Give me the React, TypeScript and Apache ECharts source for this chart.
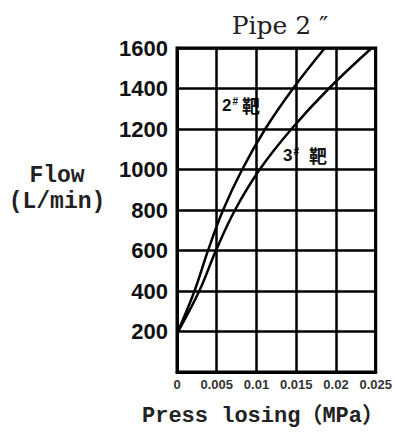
import React, { useEffect, useRef } from "react";
import * as echarts from "echarts";

const xTicks = [0, 0.005, 0.01, 0.015, 0.02, 0.025];
const yTicks = [200, 400, 600, 800, 1000, 1200, 1400, 1600];

const pipe2Press = [0, 0.0022, 0.0039, 0.0058, 0.0082, 0.0111, 0.0146, 0.0186];
const pipe2Flow = [190, 400, 600, 800, 1000, 1200, 1400, 1600];

const pipe3Press = [0, 0.0028, 0.0049, 0.0073, 0.0104, 0.0144, 0.0191, 0.0245];
const pipe3Flow = [190, 400, 600, 800, 1000, 1200, 1400, 1600];

const titleText = "Pipe 2 \u2033";
const yName = ["Flow", "(L/min)"];
const xName = "Press losing\uFF08MPa\uFF09";

export default function App() {
  const ref = useRef<HTMLDivElement>(null);
  useEffect(() => {
    if (!ref.current) return;
    const chart = echarts.init(ref.current, undefined, { renderer: "svg" });
    const zip = (xs: number[], ys: number[]) => xs.map((x, i) => [x, ys[i]]);
    const mono = "'Liberation Mono', 'Noto Sans CJK SC', monospace";
    const labelRich = (gap: number) => ({
      n: { fontSize: 17, fontWeight: "bold", fill: "#111", fontFamily: "'Liberation Sans', sans-serif" },
      s: { fontSize: 10, fontWeight: "bold", fill: "#111", verticalAlign: "top", padding: [0, gap, 8, 1] },
      z: { fontSize: 18, fontWeight: "bold", fill: "#111", fontFamily: "'Noto Sans CJK SC', sans-serif" },
    });
    chart.setOption({
      animation: false,
      backgroundColor: "#fff",
      grid: {
        left: 177,
        right: 18,
        top: 48,
        bottom: 61,
        show: true,
        borderColor: "#000",
        borderWidth: 3,
      },
      xAxis: {
        type: "value",
        min: 0,
        max: 0.025,
        interval: 0.005,
        axisLine: { show: true, lineStyle: { color: "#000", width: 3 } },
        axisTick: { show: false },
        splitLine: { show: true, lineStyle: { color: "#000", width: 2.5 } },
        axisLabel: {
          margin: 6,
          color: "#333",
          fontSize: 13,
          fontWeight: "bold",
          fontFamily: "'Liberation Sans', Arial, sans-serif",
          formatter: (v: number) => String(+v.toFixed(3)),
        },
      },
      yAxis: {
        type: "value",
        min: 0,
        max: 1600,
        interval: 200,
        axisLine: { show: true, lineStyle: { color: "#000", width: 3 } },
        axisTick: { show: false },
        splitLine: { show: true, lineStyle: { color: "#000", width: 2.5 } },
        axisLabel: {
          margin: 9,
          color: "#111",
          fontSize: 22,
          fontWeight: "bold",
          fontFamily: "'Liberation Sans', Arial, sans-serif",
          formatter: (v: number) => (yTicks.includes(v) ? String(v) : ""),
        },
      },
      series: [
        {
          type: "line",
          name: "2#",
          data: zip(pipe2Press, pipe2Flow),
          smooth: 0.4,
          showSymbol: false,
          lineStyle: { color: "#000", width: 2.5 },
        },
        {
          type: "line",
          name: "3#",
          data: zip(pipe3Press, pipe3Flow),
          smooth: 0.4,
          showSymbol: false,
          lineStyle: { color: "#000", width: 2.5 },
        },
      ],
      graphic: [
        {
          type: "text",
          x: 280,
          y: 25,
          style: {
            text: titleText,
            fill: "#222",
            font: "25px 'DejaVu Serif', serif",
            textAlign: "center",
            textVerticalAlign: "middle",
          },
        },
        {
          type: "text",
          x: 57,
          y: 176,
          style: {
            text: yName[0],
            fill: "#222",
            font: "bold 23px " + mono,
            textAlign: "center",
            textVerticalAlign: "middle",
          },
        },
        {
          type: "text",
          x: 57,
          y: 202,
          style: {
            text: yName[1],
            fill: "#222",
            font: "bold 23px " + mono,
            textAlign: "center",
            textVerticalAlign: "middle",
          },
        },
        {
          type: "text",
          x: 263,
          y: 416,
          style: {
            text: xName,
            fill: "#222",
            font: "bold 22px " + mono,
            textAlign: "center",
            textVerticalAlign: "middle",
          },
        },
        {
          type: "text",
          x: 222,
          y: 105,
          style: {
            text: "{n|2}{s|#}{z|靶}",
            textVerticalAlign: "middle",
            rich: labelRich(4),
          },
        },
        {
          type: "text",
          x: 283,
          y: 155,
          style: {
            text: "{n|3}{s|#}{z|靶}",
            textVerticalAlign: "middle",
            rich: labelRich(10),
          },
        },
      ],
    });
    return () => chart.dispose();
  }, []);
  return <div ref={ref} style={{ width: 395, height: 433, position: "absolute", left: 0, top: 0 }} />;
}
